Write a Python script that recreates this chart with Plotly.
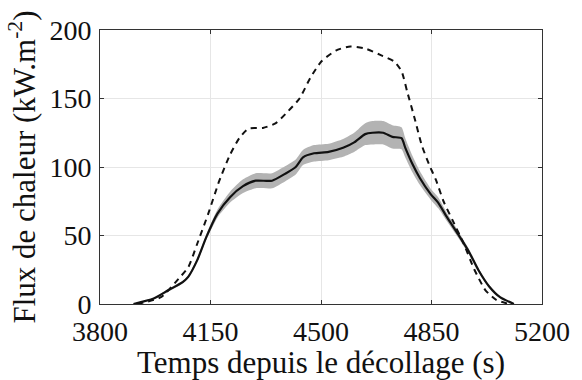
import plotly.graph_objects as go

# Solid (mean) curve
t_mean = [3906, 3970, 4016, 4062, 4080, 4108, 4137, 4172, 4212, 4253, 4293, 4345, 4386,
          4420, 4443, 4478, 4524, 4570, 4605, 4640, 4663, 4697, 4726, 4755, 4767, 4790,
          4813, 4848, 4871, 4900, 4934, 4969, 4998, 5032, 5067, 5111]
q_mean = [0, 4, 10, 16, 20, 32, 49, 66, 78, 86, 90, 90, 95,
          100, 107, 110, 111, 114, 118, 124, 125, 125, 122, 121, 114, 102,
          92, 80, 74, 63, 51, 38, 25, 13, 5, 0]
q_spread = [0, 0.5, 1, 1, 1, 1.5, 2, 3, 4, 5, 5.5, 5.5, 5.5,
            5.5, 5.5, 6, 6, 6.5, 7, 8, 8.5, 8.5, 8.5, 8, 7, 6,
            5, 4, 4, 3, 2.5, 2, 1.5, 1, 0.5, 0]

# Dashed curve
t_dash = [3918, 3993, 4051, 4080, 4108, 4143, 4178, 4212, 4241, 4270, 4316, 4357, 4397,
          4432, 4466, 4501, 4547, 4593, 4640, 4686, 4732, 4755, 4773, 4796, 4819, 4842,
          4865, 4888, 4917, 4952, 4986, 5021, 5055, 5096]
q_dash = [0, 5, 19, 27, 44, 66, 90, 109, 121, 128, 128.5, 132, 141,
          150, 165, 177, 185, 188, 186.5, 182, 177, 170, 155, 136, 116, 102,
          90, 75, 61, 44, 25, 10, 3, 0]

x_ticks = [3800, 4150, 4500, 4850, 5200]
y_ticks = [0, 50, 100, 150, 200]

upper = [m + s for m, s in zip(q_mean, q_spread)]
lower = [m - s for m, s in zip(q_mean, q_spread)]

FONT = "Liberation Serif"

fig = go.Figure()
fig.add_trace(go.Scatter(x=t_mean, y=upper, mode="lines", line=dict(width=0, shape="spline", smoothing=0.6),
                         hoverinfo="skip", showlegend=False))
fig.add_trace(go.Scatter(x=t_mean, y=lower, mode="lines", line=dict(width=0, shape="spline", smoothing=0.6),
                         fill="tonexty", fillcolor="#b3b3b3", hoverinfo="skip", showlegend=False))
fig.add_trace(go.Scatter(x=t_dash, y=q_dash, mode="lines",
                         line=dict(color="#111111", width=2, dash="6px,5px", shape="spline", smoothing=0.6),
                         showlegend=False))
fig.add_trace(go.Scatter(x=t_mean, y=q_mean, mode="lines",
                         line=dict(color="#111111", width=2.2, shape="spline", smoothing=0.6),
                         showlegend=False))

axis_common = dict(
    showgrid=True, gridcolor="#e6e6e6", gridwidth=1,
    showline=True, linecolor="#333333", linewidth=1, mirror="ticks",
    ticks="inside", ticklen=4, tickcolor="#333333",
    zeroline=False,
    tickfont=dict(family=FONT, size=28, color="#111111"),
)

fig.update_layout(
    width=582, height=380,
    margin=dict(l=100, r=32, t=30, b=75),
    plot_bgcolor="white", paper_bgcolor="white",
    xaxis=dict(range=[3800, 5200], tickvals=x_ticks, ticktext=[str(v) for v in x_ticks],
               ticklabelstandoff=2,
               title=dict(text="Temps depuis le décollage (s)", font=dict(family=FONT, size=31, color="#111111"),
                          standoff=0),
               **axis_common),
    yaxis=dict(range=[0, 200], tickvals=y_ticks, ticktext=[str(v) for v in y_ticks],
               ticklabelstandoff=2,
               title=dict(text="Flux de chaleur (kW.m<sup>-2</sup>)", font=dict(family=FONT, size=31, color="#111111"),
                          standoff=4),
               **axis_common),
)

fig.write_html("out.html")
